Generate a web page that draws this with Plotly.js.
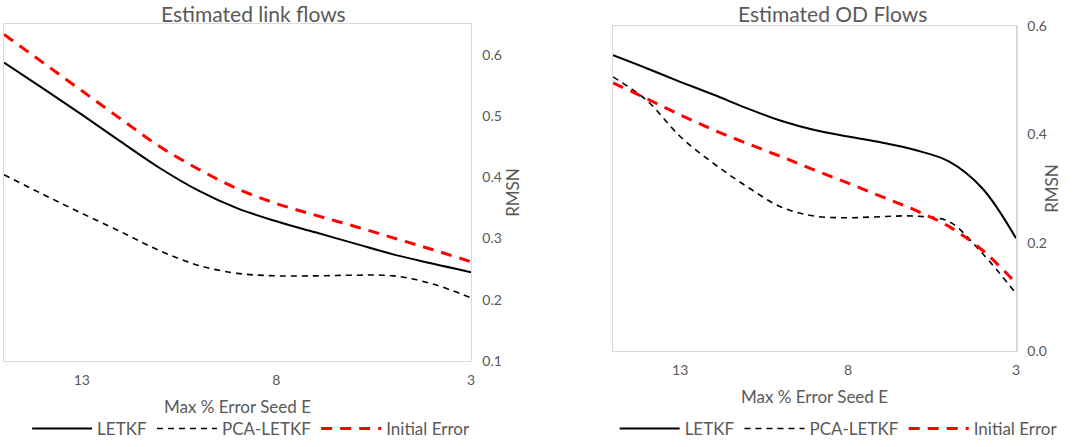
<!DOCTYPE html>
<html>
<head>
<meta charset="utf-8">
<script src="https://cdn.plot.ly/plotly-3.0.1.min.js"></script>
<style>
  html, body { margin: 0; padding: 0; background: #fff; }
  #chart { width: 1084px; height: 447px; }
</style>
</head>
<body>
<div id="chart"></div>
<script>
// RMSN against max % error of seed E (x runs 15 -> 3)
const seedError = [15, 14, 13, 12, 11, 10, 9, 8, 7, 6, 5, 4, 3];

// Estimated link flows
const linkLetkf   = [0.587, 0.545, 0.502, 0.458, 0.415, 0.378, 0.349, 0.328, 0.310, 0.292, 0.274, 0.259, 0.245];
const linkPca     = [0.404, 0.372, 0.341, 0.311, 0.280, 0.256, 0.243, 0.239, 0.239, 0.240, 0.239, 0.226, 0.203];
const linkInitial = [0.633, 0.587, 0.541, 0.495, 0.450, 0.413, 0.381, 0.357, 0.338, 0.320, 0.301, 0.282, 0.262];

// Estimated OD flows
const odLetkf   = [0.546, 0.522, 0.497, 0.473, 0.448, 0.425, 0.408, 0.396, 0.385, 0.371, 0.350, 0.300, 0.208];
const odPca     = [0.506, 0.463, 0.396, 0.346, 0.303, 0.266, 0.249, 0.246, 0.248, 0.249, 0.239, 0.180, 0.106];
const odInitial = [0.495, 0.466, 0.436, 0.408, 0.383, 0.359, 0.334, 0.310, 0.285, 0.260, 0.230, 0.186, 0.125];

const seriesNames = ['LETKF', 'PCA-LETKF', 'Initial Error'];
const xTicks = [13, 8, 3];

const FONT = "Lato, 'Open Sans', sans-serif";
const GREY = '#595959';
const BORDER = '#d9d9d9';

// line looks per series
const lineStyles = [
    { color: '#000000', width: 2, dash: 'solid' },
    { color: '#000000', width: 1.6, dash: '6px,5px' },
    { color: '#ff0000', width: 3, dash: '11px,8px' }
];

function makeTraces(values, xa, ya, legendId) {
    return values.map((ys, i) => ({
        x: seedError,
        y: ys,
        name: seriesNames[i],
        type: 'scatter',
        mode: 'lines',
        line: { ...lineStyles[i], shape: 'spline', smoothing: 1 },
        xaxis: xa,
        yaxis: ya,
        legend: legendId
    }));
}

const data = [
    ...makeTraces([linkLetkf, linkPca, linkInitial], 'x', 'y', 'legend'),
    ...makeTraces([odLetkf, odPca, odInitial], 'x2', 'y2', 'legend2')
];

function xAxis(domain, anchor) {
    return {
        domain: domain,
        anchor: anchor,
        range: [15, 3],
        tickvals: xTicks,
        ticks: '',
        ticklabelstandoff: 6,
        showgrid: false,
        zeroline: false,
        showline: true,
        mirror: true,
        linecolor: BORDER,
        linewidth: 1.5,
        tickfont: { family: FONT, size: 14, color: GREY },
        title: { text: 'Max % Error Seed E', font: { family: FONT, size: 17, color: GREY }, standoff: 14 }
    };
}

function yAxis(domain, anchor, range, dtick) {
    return {
        domain: domain,
        anchor: anchor,
        side: 'right',
        range: range,
        dtick: dtick,
        tickformat: '.1f',
        ticks: '',
        ticklabelstandoff: 7,
        showgrid: false,
        zeroline: false,
        showline: true,
        mirror: true,
        linecolor: BORDER,
        linewidth: 1.5,
        tickfont: { family: FONT, size: 14, color: GREY },
        title: { text: 'RMSN', font: { family: FONT, size: 17, color: GREY }, standoff: 0 }
    };
}

function legendAt(x) {
    return {
        orientation: 'h',
        x: x,
        xanchor: 'left',
        y: 0,
        yanchor: 'bottom',
        font: { family: FONT, size: 17, color: GREY },
        itemwidth: 60,
        traceorder: 'normal',
        bgcolor: 'rgba(0,0,0,0)'
    };
}

const layout = {
    width: 1084,
    height: 447,
    margin: { t: 0, r: 0, b: 0, l: 0 },
    paper_bgcolor: '#ffffff',
    plot_bgcolor: '#ffffff',
    showlegend: true,
    xaxis: xAxis([0.0037, 0.4345], 'y'),
    yaxis: yAxis([0.1924, 0.9463], 'x', [0.1, 0.65], 0.1),
    xaxis2: xAxis([0.5655, 0.9373], 'y2'),
    yaxis2: yAxis([0.2148, 0.9418], 'x2', [0, 0.6], 0.2),
    legend: legendAt(0.025),
    legend2: legendAt(0.567),
    annotations: [
        { text: 'Estimated link flows', x: 253 / 1084, y: 0.97, xref: 'paper', yref: 'paper',
          xanchor: 'center', yanchor: 'middle', showarrow: false,
          font: { family: FONT, size: 21, color: GREY } },
        { text: 'Estimated OD Flows', x: 832 / 1084, y: 0.97, xref: 'paper', yref: 'paper',
          xanchor: 'center', yanchor: 'middle', showarrow: false,
          font: { family: FONT, size: 21, color: GREY } }
    ]
};

Plotly.newPlot('chart', data, layout, { displayModeBar: false, staticPlot: true });
</script>
</body>
</html>
